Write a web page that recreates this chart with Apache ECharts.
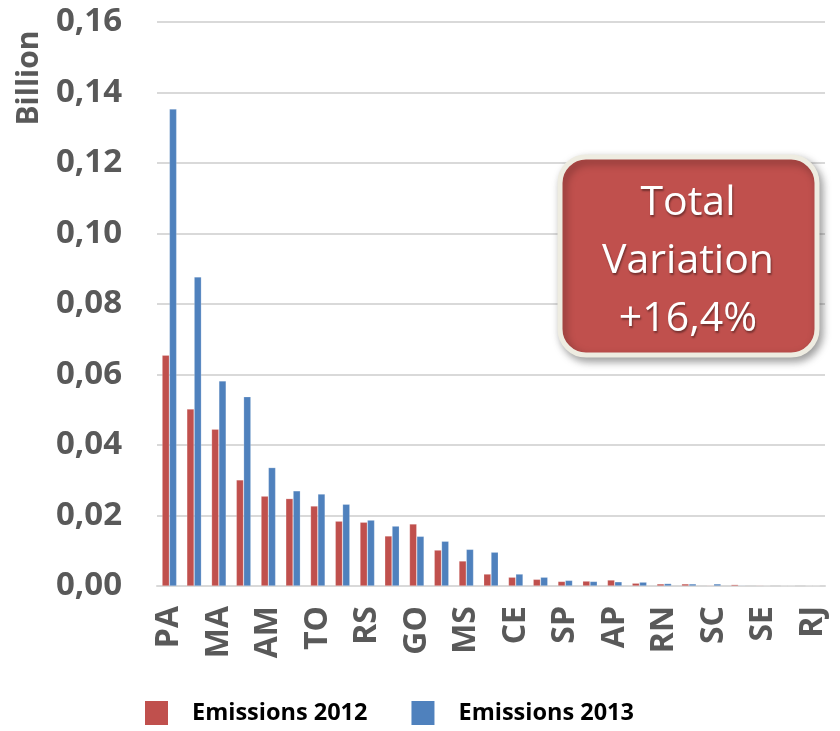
<!DOCTYPE html>
<html><head><meta charset="utf-8">
<script src="https://cdn.jsdelivr.net/npm/echarts@6/dist/echarts.min.js"></script>
<style>html,body{margin:0;padding:0;background:#fff}#c{width:840px;height:731px}</style>
</head><body><div id="c"></div>
<script>
var categories = ['PA','MT','MA','RO','AM','BA','TO','MG','RS','PI','GO','PR','MS','AC','CE','RR','SP','PB','AP','ES','RN','PE','SC','AL','SE','DF','RJ'];
var emissions2012 = [0.0655,0.0502,0.0445,0.0301,0.0255,0.0248,0.0227,0.0184,0.0181,0.0142,0.0176,0.0102,0.0071,0.0034,0.0025,0.0019,0.0013,0.0014,0.0017,0.0008,0.0006,0.0006,0.0002,0.0004,0.0002,0.0001,0.0001];
var emissions2013 = [0.1353,0.0877,0.0582,0.0537,0.0336,0.0270,0.0261,0.0232,0.0187,0.0170,0.0141,0.0127,0.0104,0.0096,0.0034,0.0025,0.0016,0.0013,0.0012,0.0011,0.0007,0.0006,0.0006,0.0002,0.0001,0.0001,0.0001];
var seriesNames = ['Emissions 2012','Emissions 2013'];
var yTicks = {min:0, max:0.16, interval:0.02};
var annotationLines = ['Total','Variation','+16,4%'];

var FONT = '"Open Sans", "Liberation Sans", sans-serif';
var chart = echarts.init(document.getElementById('c'), null, {renderer:'canvas'});
chart.setOption({
  animation:false,
  backgroundColor:'#fff',
  grid:{left:157, right:15, top:22, bottom:145, containLabel:false},
  legend:{
    data:seriesNames, left:145, top:701, padding:0, icon:'rect', itemWidth:23, itemHeight:24, itemGap:44,
    itemStyle:{borderWidth:0},
    textStyle:{fontFamily:FONT, fontSize:23.5, fontWeight:'bold', color:'#000', padding:[0,0,0,19]}
  },
  xAxis:{
    type:'category', data:categories, boundaryGap:true,
    axisLine:{show:true, lineStyle:{color:'#D9D9D9', width:2}},
    axisTick:{show:false},
    axisLabel:{rotate:90, interval:1, margin:20, fontFamily:FONT, fontSize:32, fontWeight:'bold', color:'#595959'}
  },
  yAxis:{
    type:'value', min:yTicks.min, max:yTicks.max, interval:yTicks.interval,
    axisLine:{show:false}, axisTick:{show:false},
    splitLine:{lineStyle:{color:'#D9D9D9', width:2}},
    axisLabel:{margin:35, fontFamily:FONT, fontSize:33, fontWeight:'bold', color:'#595959',
      formatter:function(v){return v.toFixed(2).replace('.',',');}}
  },
  series:[
    {name:seriesNames[0], type:'bar', data:emissions2012, barWidth:7.3, barGap:'0%',
     itemStyle:{color:'#C0504D', borderColor:'rgba(255,255,255,0.35)', borderWidth:0.6}},
    {name:seriesNames[1], type:'bar', data:emissions2013, barWidth:7.3, barGap:'0%',
     itemStyle:{color:'#4F81BD', borderColor:'rgba(255,255,255,0.35)', borderWidth:0.6}}
  ],
  graphic:[
    {type:'text', x:29, y:78, z:100, rotation:Math.PI/2, style:{text:'Billion', fontFamily:FONT, fontSize:30, fontWeight:'bold', fill:'#595959', align:'center', verticalAlign:'middle'}},
    {type:'rect', z:100, shape:{x:560, y:157, width:257, height:198, r:26},
     style:{fill:'#C0504D', stroke:'#EEECE1', lineWidth:5, shadowBlur:8, shadowOffsetX:3, shadowOffsetY:4, shadowColor:'rgba(0,0,0,0.35)'}},
    {type:'text', z:101, x:688, y:261, style:{text:annotationLines.join('\n'), fontFamily:FONT, fontSize:41, lineHeight:58, fill:'#fff', align:'center', verticalAlign:'middle',
      textShadowColor:'rgba(0,0,0,0.4)', textShadowBlur:2, textShadowOffsetX:1, textShadowOffsetY:2}}
  ]
});
</script></body></html>
